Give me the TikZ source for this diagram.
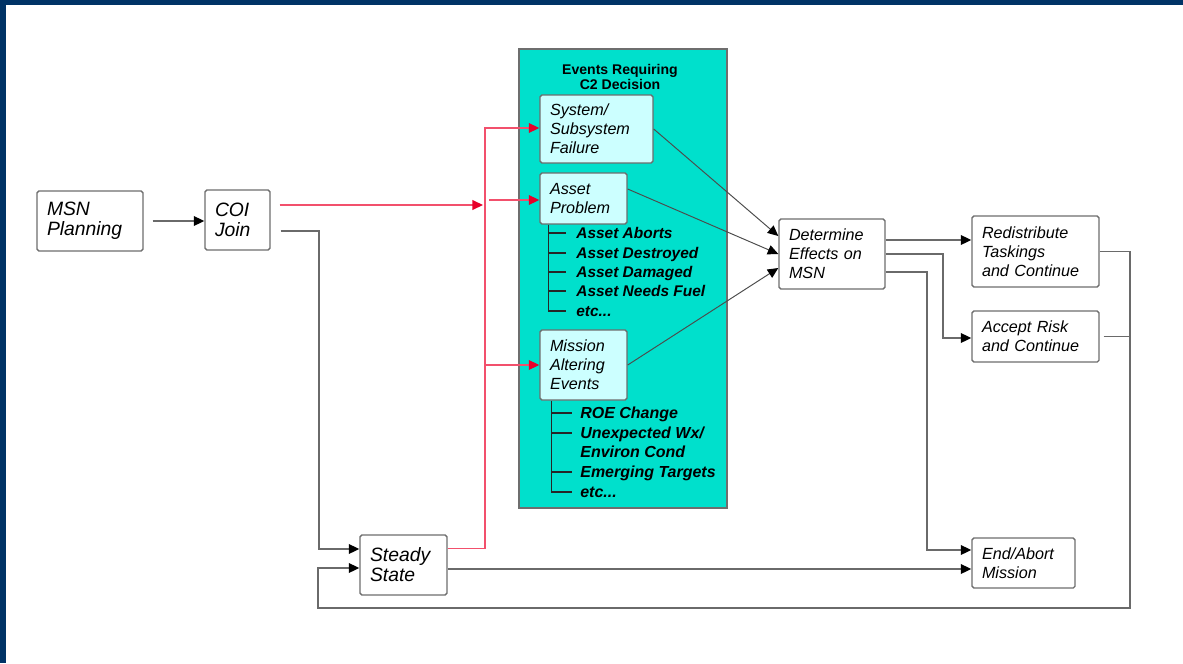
\documentclass[tikz,border=0pt]{standalone}
\usepackage{fontspec}
\setmainfont{Liberation Sans}
\usetikzlibrary{arrows.meta}
\definecolor{frame}{HTML}{003366}
\definecolor{evfill}{HTML}{00E0CC}
\definecolor{evbox}{HTML}{CCFFFF}
\definecolor{boxline}{HTML}{6E6E6E}
\definecolor{lngray}{HTML}{6A6A6A}
\definecolor{lnred}{HTML}{F2506C}
\definecolor{tipred}{HTML}{E8002A}
\tikzset{
  box/.style={draw=boxline, line width=0.8pt, rounded corners=1pt, fill=white,
    inner xsep=0.2cm, inner ysep=2pt, align=left,
    font=\fontsize{11}{11.3}\selectfont\itshape},
  rbox/.style={box, font=\fontsize{9.2}{10.8}\selectfont\itshape},
  ebox/.style={rbox, fill=evbox},
  evarea/.style={draw=boxline, line width=0.8pt, fill=evfill, inner sep=0pt,
    minimum width=4.16cm, minimum height=9.18cm},
  evtitle/.style={align=center, inner sep=0pt, font=\fontsize{8}{8.5}\selectfont\bfseries},
  item/.style={anchor=west, inner sep=0pt, text height=1.6ex, text depth=0.4ex,
    font=\fontsize{8.8}{11}\selectfont\bfseries\itshape},
  mitem/.style={item, font=\fontsize{9.1}{11}\selectfont\bfseries\itshape},
  tree/.style={draw=black!85, line width=0.9pt},
  conn/.style={draw=lngray, line width=0.9pt, -{Triangle[length=6pt,width=5.5pt,color=black]}},
  link/.style={draw=lngray, line width=0.9pt},
  thinconn/.style={draw=black!70, line width=0.55pt, -{Triangle[length=6pt,width=5.5pt,color=black]}},
  redconn/.style={draw=lnred, line width=0.8pt, -{Triangle[length=6pt,width=5.5pt,color=tipred]}},
  redlink/.style={draw=lnred, line width=0.8pt},
}
\begin{document}
\begin{tikzpicture}[x=0.02cm,y=-0.02cm]
  \useasboundingbox (0,0) rectangle (1183,663);
  \fill[white] (0,0) rectangle (1183,663);
  \fill[frame] (0,0) rectangle (1183,5);
  \fill[frame] (0,0) rectangle (6,663);

  % decision area
  \node[evarea] (events) at (623,278.5) {};
  \node[evtitle] (title) at (620,77) {Events Requiring\\C2 Decision};

  % boxes
  \node[box,text width=1.72cm,minimum height=1.2cm] (msn) at (90,221) {MSN\\Planning};
  \node[box,text width=0.9cm,minimum height=1.2cm] (coi) at (237.5,220) {COI\\Join};
  \node[box,text width=1.34cm,minimum height=1.2cm] (steady) at (403.5,565) {Steady\\State};
  \node[ebox,text width=1.86cm,minimum height=1.36cm] (sys) at (596.5,129) {System/\\Subsystem\\Failure};
  \node[ebox,text width=1.34cm,minimum height=1.02cm] (asset) at (583.5,198.5) {Asset\\Problem};
  \node[ebox,text width=1.34cm,minimum height=1.4cm] (mission) at (583.5,365) {Mission\\Altering\\Events};
  \node[rbox,text width=1.72cm,minimum height=1.4cm] (determine) at (832,254) {Determine\\Effects on\\MSN};
  \node[rbox,text width=2.14cm,minimum height=1.42cm] (redist) at (1035.5,251.5) {Redistribute\\Taskings\\and~Continue};
  \node[rbox,text width=2.14cm,minimum height=1.02cm] (accept) at (1035.5,336.5) {Accept Risk\\and~Continue};
  \node[rbox,text width=1.66cm,minimum height=1.0cm] (endab) at (1023.5,563) {End/Abort\\Mission};

  % asset list
  \node[item] (a1) at (576,233) {Asset Aborts};
  \node[item] (a2) at (576,253) {Asset Destroyed};
  \node[item] (a3) at (576,272) {Asset Damaged};
  \node[item] (a4) at (576,291) {Asset Needs Fuel};
  \node[item] (a5) at (576,311) {etc...};
  \coordinate (atop) at ([xshift=0.18cm]asset.south west);
  \draw[tree] (atop) |- ([xshift=-0.2cm]a5.west);
  \draw[tree] (atop |- a1) -- ([xshift=-0.2cm]a1.west);
  \draw[tree] (atop |- a2) -- ([xshift=-0.2cm]a2.west);
  \draw[tree] (atop |- a3) -- ([xshift=-0.2cm]a3.west);
  \draw[tree] (atop |- a4) -- ([xshift=-0.2cm]a4.west);

  % mission list
  \node[mitem] (m1) at (580,413) {ROE Change};
  \node[mitem] (m2) at (580,433) {Unexpected Wx/};
  \node[mitem] (m3) at (580,452) {Environ Cond};
  \node[mitem] (m4) at (580,472) {Emerging Targets};
  \node[mitem] (m5) at (580,492) {etc...};
  \coordinate (mtop) at ([xshift=0.24cm]mission.south west);
  \draw[tree] (mtop) |- ([xshift=-0.16cm]m5.west);
  \draw[tree] (mtop |- m1) -- ([xshift=-0.16cm]m1.west);
  \draw[tree] (mtop |- m2) -- ([xshift=-0.16cm]m2.west);
  \draw[tree] (mtop |- m4) -- ([xshift=-0.16cm]m4.west);

  % red feed into the events
  \coordinate (rtop) at (485,128);
  \coordinate (rcoi) at (483,205);
  \coordinate (rmid) at (489,200);
  \draw[redconn] ([xshift=0.18cm]coi.east |- rcoi) -- (rcoi);
  \draw[redconn] ([yshift=0.33cm]steady.east) -| (rtop) -- (sys.west |- rtop);
  \draw[redconn] (rmid) -- (asset.west |- rmid);
  \draw[redconn] (rtop |- mission.west) -- (mission.west);

  % black flow
  \coordinate (jx) at (319,549);
  \coordinate (rb) at (1130,608);
  \coordinate (lb) at (318,608);
  \coordinate (ax) at (943,338);
  \coordinate (ex) at (927,550);
  \draw[conn,shorten <=0.18cm] (msn.east) -- (coi.west |- msn.east);
  \draw[conn] ([shift={(0.2cm,-0.22cm)}]coi.east) -| (jx) -- (steady.west |- jx);
  \draw[conn] (redist.east) -| (rb) -- (lb) |- ([yshift=-0.06cm]steady.west);
  \draw[link] ([xshift=0.08cm]accept.east) -- (accept.east -| rb);
  \draw[conn] ([yshift=-0.08cm]steady.east) -- ([yshift=-0.08cm]steady.east -| endab.west);
  \draw[thinconn] (sys.east) -- ([yshift=0.36cm]determine.west);
  \draw[thinconn] ([yshift=0.19cm]asset.east) -- (determine.west);
  \draw[thinconn] (mission.east) -- ([yshift=-0.28cm]determine.west);
  \draw[conn] ([yshift=0.28cm]determine.east) -- ([yshift=0.28cm]determine.east -| redist.west);
  \draw[conn] (determine.east) -| (ax) -- (accept.west |- ax);
  \draw[conn] ([yshift=-0.36cm]determine.east) -| (ex) -- (endab.west |- ex);
\end{tikzpicture}
\end{document}
